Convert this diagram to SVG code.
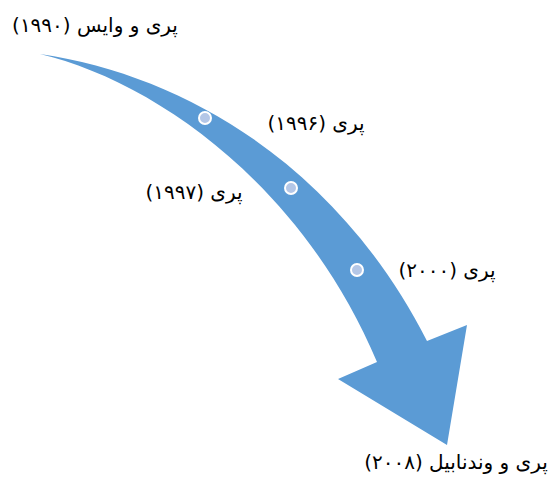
<svg xmlns="http://www.w3.org/2000/svg" width="552" height="477" viewBox="0 0 552 477">
<style>
.lbl{font-family:"DejaVu Sans","Noto Sans",sans-serif;font-size:20px;fill:#000;text-anchor:middle;direction:rtl}
.dot{fill:#B4C7E7;stroke:#fff;stroke-width:2}
</style>
<rect width="552" height="477" fill="#fff"/>
<g id="connectors">
<path id="arrow" d="M40,54 C190,76 340,170 427,341 L467,325 L447,445 L338,379 L377,362 C300,180 150,80 40,54 Z" fill="#5B9BD5"/>
</g>
<g id="n1990"><text class="lbl" x="95" y="32">پری و وایس (۱۹۹۰)</text></g>
<g id="n1996"><circle class="dot" cx="205" cy="118" r="6"/><text class="lbl" x="316" y="130">پری (۱۹۹۶)</text></g>
<g id="n1997"><circle class="dot" cx="291" cy="188" r="6"/><text class="lbl" x="194" y="199">پری (۱۹۹۷)</text></g>
<g id="n2000"><circle class="dot" cx="357" cy="270" r="6"/><text class="lbl" x="447" y="277">پری (۲۰۰۰)</text></g>
<g id="n2008"><text class="lbl" x="456" y="469">پری و وندنابیل (۲۰۰۸)</text></g>
</svg>
